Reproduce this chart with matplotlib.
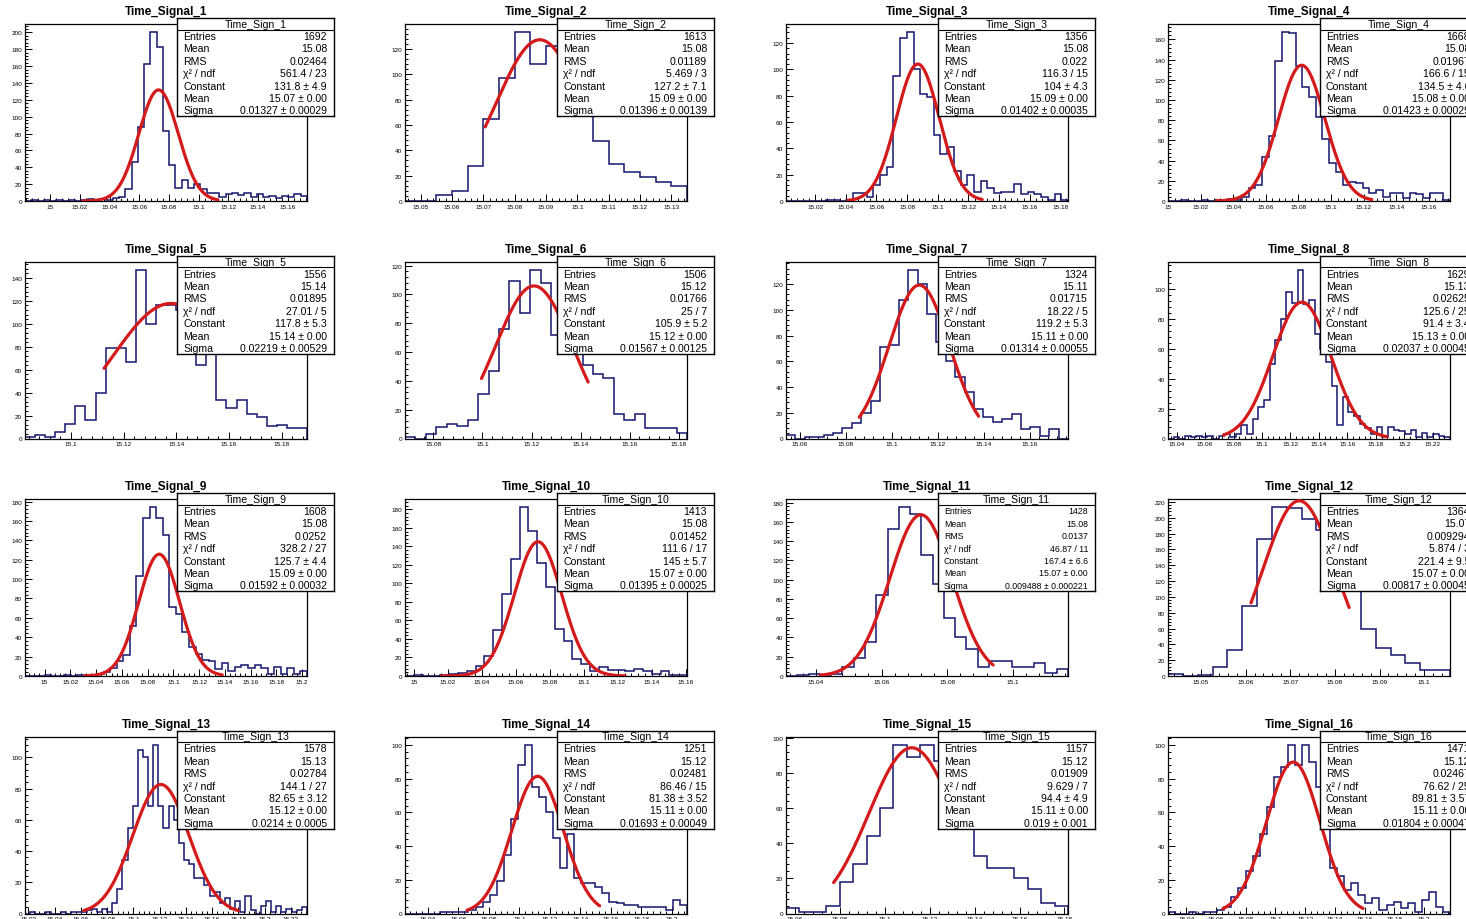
import numpy as np
import matplotlib
matplotlib.use("Agg")
import matplotlib.pyplot as plt
from matplotlib.ticker import MultipleLocator, AutoMinorLocator, FuncFormatter

plt.rcParams['font.family'] = ['Liberation Sans', 'DejaVu Sans']

# ---------------- data ----------------
titles = ["Time_Signal_1", "Time_Signal_2", "Time_Signal_3", "Time_Signal_4",
          "Time_Signal_5", "Time_Signal_6", "Time_Signal_7", "Time_Signal_8",
          "Time_Signal_9", "Time_Signal_10", "Time_Signal_11", "Time_Signal_12",
          "Time_Signal_13", "Time_Signal_14", "Time_Signal_15", "Time_Signal_16"]
hist_names = ["Time_Sign_1", "Time_Sign_2", "Time_Sign_3", "Time_Sign_4",
              "Time_Sign_5", "Time_Sign_6", "Time_Sign_7", "Time_Sign_8",
              "Time_Sign_9", "Time_Sign_10", "Time_Sign_11", "Time_Sign_12",
              "Time_Sign_13", "Time_Sign_14", "Time_Sign_15", "Time_Sign_16"]

counts_1 = [0,1,0,1,0,1,0,1,0,1,2,1,2,1,3,5,14,46,88,163,200,183,83,43,15,25,15,20,14,10,
            9,5,8,10,7,9,5,8,5,6,4,6,5,8,6]
counts_2 = [0,0,5,8,28,65,97,133,108,122,110,80,47,29,23,19,15,12]
counts_3 = [0,0,0,0,0,0,1,1,0,1,6,6,3,12,20,26,95,124,128,100,81,79,50,36,41,23,12,20,7,15,
            10,6,7,7,13,5,7,5,3,1,5,1]
counts_4 = [0,0,1,0,0,1,0,1,1,2,1,4,13,16,44,64,139,167,166,134,113,103,83,61,38,29,16,19,18,13,
            8,11,4,8,8,3,8,7,3,8,8,1]
counts_5 = [1,3,1,6,13,28,16,40,79,79,67,147,100,116,116,112,95,64,85,34,27,34,21,19,11,12,9,9]
counts_6 = [1,0,3,8,10,9,13,31,47,76,109,87,117,108,72,108,75,51,45,42,17,13,17,7,7,7,4]
counts_7 = [3,0,1,1,3,4,8,12,20,29,71,73,108,131,120,97,75,60,48,36,23,17,13,15,19,7,9,2,7,0]
counts_8 = [0,1,0,2,1,2,1,2,0,2,3,1,3,9,3,13,21,26,50,66,80,98,91,113,90,93,70,60,51,35,
            9,28,18,15,10,7,3,8,1,8,6,5,3,6,1,4,1,3,2,1]
counts_9 = [0,0,0,1,0,0,1,0,1,1,1,2,4,8,15,22,52,103,163,174,163,146,71,64,45,30,23,17,15,7,
            13,5,9,11,8,11,8,2,9,2,8,2,5]
counts_10 = [0,1,0,0,1,2,3,5,11,22,50,89,126,182,157,122,96,51,38,18,13,5,10,7,7,5,8,5,2,5,1,1]
counts_11 = [0,1,2,1,2,9,19,35,84,153,175,168,126,95,60,40,28,9,16,16,9,9,14,3,7]
counts_12 = [3,0,1,11,33,88,173,213,212,199,185,146,110,59,35,26,16,8,8]
counts_13 = [0,1,0,0,1,0,0,1,0,1,1,1,2,3,1,3,1,7,16,34,55,69,105,100,69,108,69,55,69,60,
             45,34,32,23,23,18,11,14,7,10,3,8,1,11,2,0,5,8,1,5,1,3,1,2,4]
counts_14 = [0,0,0,0,0,1,1,1,1,2,4,7,11,19,35,56,88,100,75,69,60,45,27,47,21,18,18,16,12,7,
             6,5,5,4,4,4,4,2,8,5]
counts_15 = [3,1,1,4,18,28,44,60,96,89,96,87,75,60,33,26,26,20,14,6,4]
counts_16 = [1,0,0,1,0,1,1,2,4,10,15,25,34,47,63,81,87,100,88,100,90,75,57,27,22,14,18,11,6,9,
             2,5,7,3,6,1,8,13,4,1]

all_counts = [counts_1, counts_2, counts_3, counts_4, counts_5, counts_6, counts_7, counts_8,
              counts_9, counts_10, counts_11, counts_12, counts_13, counts_14, counts_15, counts_16]

x_lo = [14.983, 15.045, 15.001, 15.000, 15.0826, 15.0684, 15.054, 15.034,
        14.9848, 14.9947, 15.0309, 15.0426, 15.0174, 15.025, 15.056, 15.0276]
x_hi = [15.173, 15.135, 15.185, 15.173, 15.1896, 15.1834, 15.1767, 15.232,
        15.2038, 15.1607, 15.1168, 15.1058, 15.2324, 15.210, 15.1816, 15.2176]
x_tick_step = [0.02, 0.01, 0.02, 0.02, 0.02, 0.02, 0.02, 0.02,
               0.02, 0.02, 0.02, 0.01, 0.02, 0.02, 0.02, 0.02]

fit_const = [131.8, 127.2, 104.0, 134.5, 117.8, 105.9, 119.2, 91.4,
             125.7, 145.0, 167.4, 221.4, 82.65, 81.38, 94.4, 89.81]
fit_mean = [15.073, 15.088, 15.087, 15.082, 15.138, 15.121, 15.112, 15.128,
            15.089, 15.073, 15.072, 15.072, 15.121, 15.112, 15.112, 15.112]
fit_sigma = [0.01327, 0.01396, 0.01402, 0.01423, 0.02219, 0.01567, 0.01314, 0.02037,
             0.01592, 0.01395, 0.009488, 0.00817, 0.0214, 0.01693, 0.019, 0.01804]
fit_lo = [15.022, 15.0706, 15.0415, 15.0296, 15.1126, 15.0996, 15.0859, 15.073,
          15.031, 15.0163, 15.0413, 15.0612, 15.0621, 15.0657, 15.0772, 15.0645]
fit_hi = [15.113, 15.100, 15.129, 15.125, 15.150, 15.1431, 15.1378, 15.1877,
          15.138, 15.1242, 15.094, 15.0832, 15.1799, 15.1527, 15.1335, 15.159]

stat_labels = ["Entries", "Mean", "RMS", "\u03c7\u00b2 / ndf", "Constant", "Mean", "Sigma"]
entries = ["1692", "1613", "1356", "1668", "1556", "1506", "1324", "1629",
           "1608", "1413", "1428", "1364", "1578", "1251", "1157", "1471"]
means = ["15.08", "15.08", "15.08", "15.08", "15.14", "15.12", "15.11", "15.13",
         "15.08", "15.08", "15.08", "15.07", "15.13", "15.12", "15.12", "15.12"]
rms = ["0.02464", "0.01189", "0.022", "0.01967", "0.01895", "0.01766", "0.01715", "0.02625",
       "0.0252", "0.01452", "0.0137", "0.009294", "0.02784", "0.02481", "0.01909", "0.02467"]
chi2 = ["561.4 / 23", "5.469 / 3", "116.3 / 15", "166.6 / 15", "27.01 / 5", "25 / 7",
        "18.22 / 5", "125.6 / 25", "328.2 / 27", "111.6 / 17", "46.87 / 11", "5.874 / 3",
        "144.1 / 27", "86.46 / 15", "9.629 / 7", "76.62 / 25"]
const_txt = ["131.8 \u00b1 4.9", "127.2 \u00b1 7.1", "104 \u00b1 4.3", "134.5 \u00b1 4.6",
             "117.8 \u00b1 5.3", "105.9 \u00b1 5.2", "119.2 \u00b1 5.3", "91.4 \u00b1 3.4",
             "125.7 \u00b1 4.4", "145 \u00b1 5.7", "167.4 \u00b1 6.6", "221.4 \u00b1 9.5",
             "82.65 \u00b1 3.12", "81.38 \u00b1 3.52", "94.4 \u00b1 4.9", "89.81 \u00b1 3.57"]
mean_txt = ["15.07 \u00b1 0.00", "15.09 \u00b1 0.00", "15.09 \u00b1 0.00", "15.08 \u00b1 0.00",
            "15.14 \u00b1 0.00", "15.12 \u00b1 0.00", "15.11 \u00b1 0.00", "15.13 \u00b1 0.00",
            "15.09 \u00b1 0.00", "15.07 \u00b1 0.00", "15.07 \u00b1 0.00", "15.07 \u00b1 0.00",
            "15.12 \u00b1 0.00", "15.11 \u00b1 0.00", "15.11 \u00b1 0.00", "15.11 \u00b1 0.00"]
sigma_txt = ["0.01327 \u00b1 0.00029", "0.01396 \u00b1 0.00139", "0.01402 \u00b1 0.00035",
             "0.01423 \u00b1 0.00029", "0.02219 \u00b1 0.00529", "0.01567 \u00b1 0.00125",
             "0.01314 \u00b1 0.00055", "0.02037 \u00b1 0.00045", "0.01592 \u00b1 0.00032",
             "0.01395 \u00b1 0.00025", "0.009488 \u00b1 0.000221", "0.00817 \u00b1 0.00045",
             "0.0214 \u00b1 0.0005", "0.01693 \u00b1 0.00049", "0.019 \u00b1 0.001",
             "0.01804 \u00b1 0.00047"]

# ---------------- layout (pixels) ----------------
W, H = 1466, 920
col_left = [25, 405, 786, 1168]
row_top = [25, 262.5, 500, 737.5]
ax_w, ax_h = 282, 177
box_dx, box_dy, box_w, box_h = 152, -6, 157, 98

hist_color = "#15156e"
fit_color = "#d41a1a"

fig = plt.figure(figsize=(W / 100, H / 100), dpi=100)
fig.patch.set_facecolor("white")

fmt = FuncFormatter(lambda v, p: ("%.4f" % v).rstrip("0").rstrip("."))

for i in range(16):
    r, c = divmod(i, 4)
    l, t = col_left[c], row_top[r]
    ax = fig.add_axes([l / W, 1 - (t + ax_h) / H, ax_w / W, ax_h / H])
    cnt = np.array(all_counts[i], dtype=float)
    edges = np.linspace(x_lo[i], x_hi[i], len(cnt) + 1)
    ax.stairs(cnt, edges, color=hist_color, lw=1.1, baseline=0, zorder=2)
    xs = np.linspace(fit_lo[i], fit_hi[i], 300)
    ys = fit_const[i] * np.exp(-0.5 * ((xs - fit_mean[i]) / fit_sigma[i]) ** 2)
    ax.plot(xs, ys, color=fit_color, lw=2.3, zorder=3, solid_capstyle="round")
    ax.set_xlim(x_lo[i], x_hi[i])
    ax.set_ylim(0, cnt.max() * 1.05)
    ax.yaxis.set_major_locator(MultipleLocator(20))
    ax.yaxis.set_minor_locator(AutoMinorLocator(5))
    ax.xaxis.set_major_locator(MultipleLocator(x_tick_step[i]))
    ax.xaxis.set_minor_locator(AutoMinorLocator(5))
    ax.xaxis.set_major_formatter(fmt)
    ax.tick_params(which="both", direction="in", top=False, right=False,
                   labelsize=4.6, width=0.7, pad=2, colors="black")
    ax.tick_params(which="major", length=5)
    ax.tick_params(which="minor", length=2.5)
    for s in ax.spines.values():
        s.set_linewidth(0.9)
    ax.text(0.5, 1 + 12.5 / ax_h, titles[i], transform=ax.transAxes, ha="center",
            va="center", fontsize=8.5, fontweight="bold")

    # stats box
    bx = fig.add_axes([(l + box_dx) / W, 1 - (t + box_dy + box_h) / H, box_w / W, box_h / H],
                      zorder=10)
    bx.set_xlim(0, 1)
    bx.set_ylim(0, 1)
    bx.set_xticks([])
    bx.set_yticks([])
    bx.set_facecolor("white")
    for s in bx.spines.values():
        s.set_linewidth(1.0)
    bx.axhline(1 - 11.5 / box_h, color="black", lw=0.8)
    fs = 6.3 if i == 10 else 7.6
    bx.text(0.5, 1 - 6 / box_h, hist_names[i], ha="center", va="center", fontsize=7.6)
    values = [entries[i], means[i], rms[i], chi2[i], const_txt[i], mean_txt[i], sigma_txt[i]]
    for k, (lab, val) in enumerate(zip(stat_labels, values)):
        yy = 1 - (18 + 12.4 * k) / box_h
        bx.text(6 / box_w, yy, lab, ha="left", va="center", fontsize=fs)
        bx.text(1 - 7 / box_w, yy, val, ha="right", va="center", fontsize=fs)

fig.savefig("out.png", dpi=100, facecolor="white")
